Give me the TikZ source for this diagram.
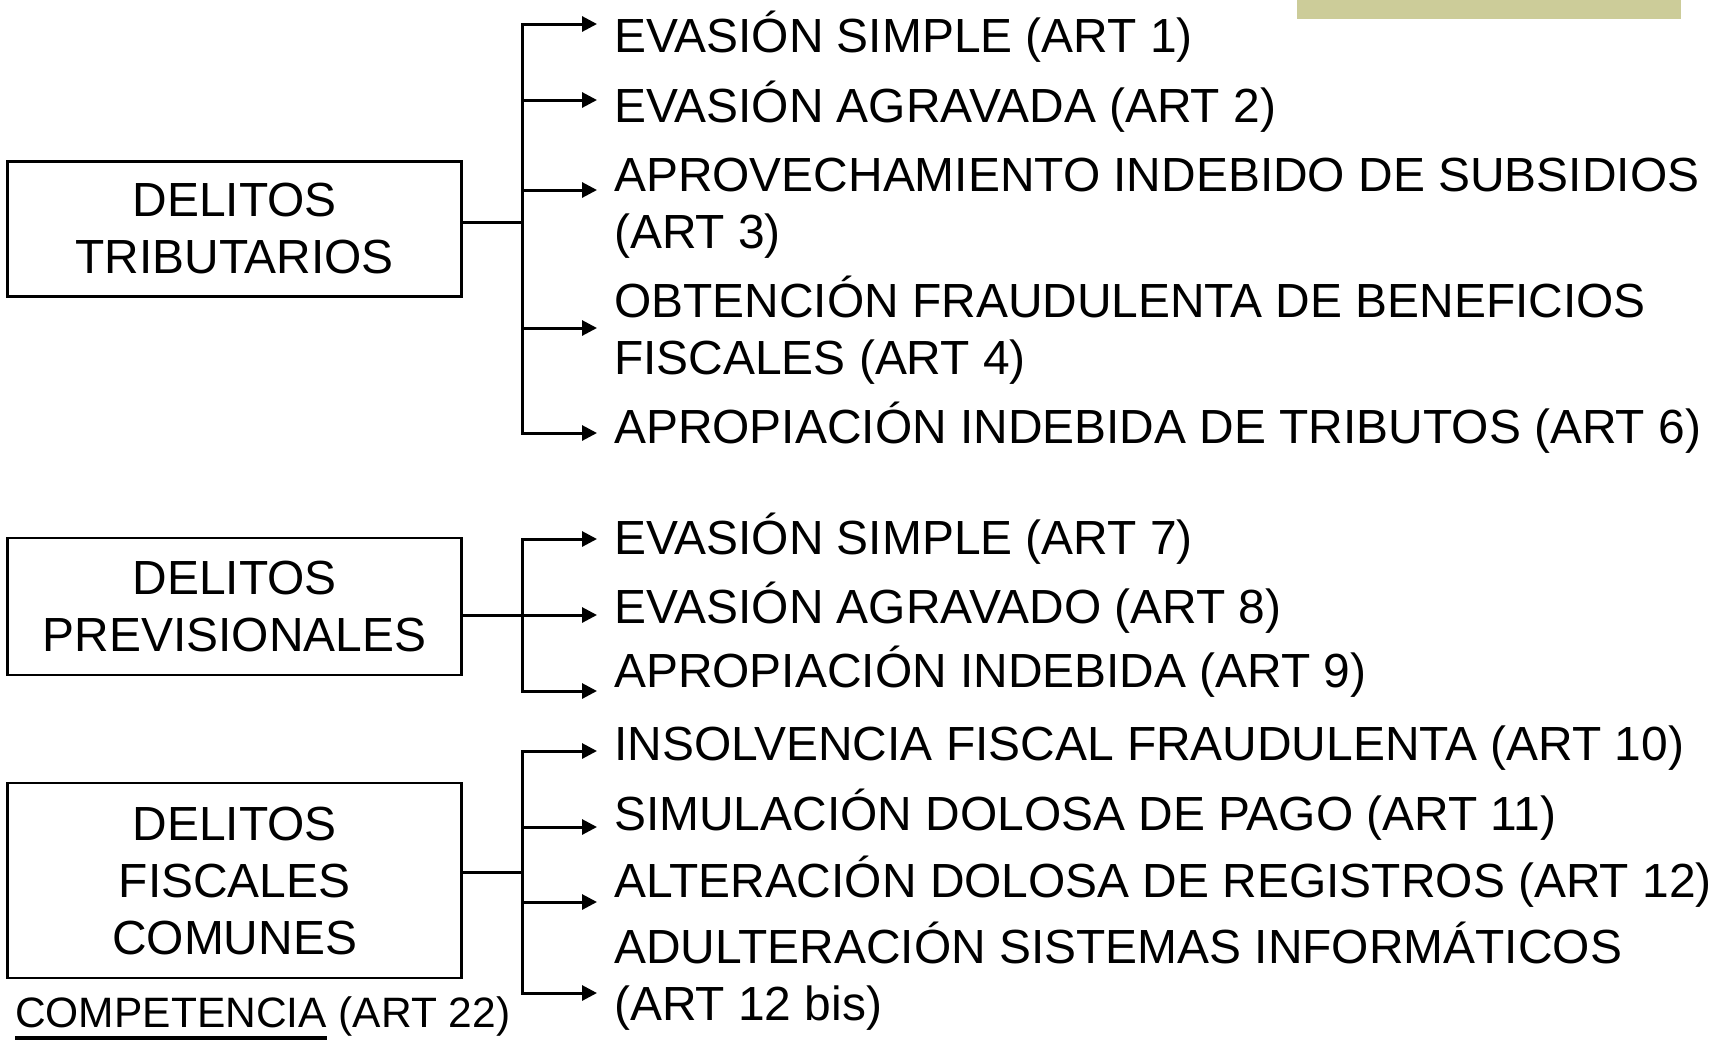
\documentclass[tikz,border=0pt]{standalone}
\usepackage{fontspec}
\setmainfont{Liberation Sans}
\usetikzlibrary{arrows.meta}
\definecolor{banner khaki}{RGB}{204,204,153}
\tikzstyle{delito box}=[draw, line width=2.5pt, minimum width=454pt, inner sep=0pt, align=center, font=\fontsize{47.9}{57}\selectfont]
\tikzstyle{art text}=[anchor=base west, inner sep=0pt, align=left, font=\fontsize{47.9}{57}\selectfont]
\tikzstyle{branch}=[line width=3pt]
\newcommand{\thickul}[1]{\setbox0\hbox{#1}\rlap{\rule[-13pt]{\wd0}{4pt}}\box0\relax}

\begin{document}
\begin{tikzpicture}[x=1pt,y=-1pt,>={Triangle[length=15pt,width=15pt]}]
    \useasboundingbox (0,0) rectangle (1723,1042);

    % Banner
    \fill[banner khaki] (1297,0) rectangle (1681,19);

    % Boxes
    \draw (234.6,229) node[delito box, minimum height=135pt] (trib) {DELITOS\\TRIBUTARIOS};
    \draw (234.6,606.5) node[delito box, minimum height=137pt] (prev) {DELITOS\\PREVISIONALES};
    \draw (234.6,880.5) node[delito box, minimum height=195pt] (fisc) {DELITOS\\FISCALES\\COMUNES};
    \draw (15,1027) node[anchor=base west, inner sep=0pt, font=\fontsize{42.5}{50}\selectfont] (comp) {\thickul{COMPETENCIA} (ART 22)};

    % Articles (base = last line)
    \draw (614,52) node[art text] (trib1) {EVASIÓN SIMPLE (ART 1)};
    \draw (614,122) node[art text] (trib2) {EVASIÓN AGRAVADA (ART 2)};
    \draw (614,248) node[art text] (trib3) {APROVECHAMIENTO INDEBIDO DE SUBSIDIOS\\(ART 3)};
    \draw (614,374) node[art text] (trib4) {OBTENCIÓN FRAUDULENTA DE BENEFICIOS\\FISCALES (ART 4)};
    \draw (614,443) node[art text] (trib6) {APROPIACIÓN INDEBIDA DE TRIBUTOS (ART 6)};

    \draw (614,554) node[art text] (prev7) {EVASIÓN SIMPLE (ART 7)};
    \draw (614,623) node[art text] (prev8) {EVASIÓN AGRAVADO (ART 8)};
    \draw (614,687) node[art text] (prev9) {APROPIACIÓN INDEBIDA (ART 9)};

    \draw (614,760) node[art text] (fisc10) {INSOLVENCIA FISCAL FRAUDULENTA (ART 10)};
    \draw (614,830) node[art text] (fisc11) {SIMULACIÓN DOLOSA DE PAGO (ART 11)};
    \draw (614,897) node[art text] (fisc12) {ALTERACIÓN DOLOSA DE REGISTROS (ART 12)};
    \draw (614,1020) node[art text] (fisc12b) {ADULTERACIÓN SISTEMAS INFORMÁTICOS\\(ART 12 bis)};

    % Forks
    \coordinate (trib fork) at (522,222);
    \coordinate (prev fork) at (522,615);
    \coordinate (fisc fork) at (522,872);
    \draw[branch] (trib fork -| trib.east) -- (trib fork);
    \draw[branch] (prev fork -| prev.east) -- (prev fork);
    \draw[branch] (fisc fork -| fisc.east) -- (fisc fork);

    % Arrow ends
    \coordinate (to trib1) at (597,24);
    \coordinate (to trib2) at (597,100);
    \coordinate (to trib3) at (597,190);
    \coordinate (to trib4) at (597,328);
    \coordinate (to trib6) at (597,433);
    \coordinate (to prev7) at (597,539);
    \coordinate (to prev8) at (597,615);
    \coordinate (to prev9) at (597,691);
    \coordinate (to fisc10) at (597,751);
    \coordinate (to fisc11) at (597,827);
    \coordinate (to fisc12) at (597,902);
    \coordinate (to fisc12b) at (597,993);

    % Arrows
    \draw[branch,->] (trib fork) |- (to trib1);
    \draw[branch,->] (trib fork) |- (to trib2);
    \draw[branch,->] (trib fork) |- (to trib3);
    \draw[branch,->] (trib fork) |- (to trib4);
    \draw[branch,->] (trib fork) |- (to trib6);
    \draw[branch,->] (prev fork) |- (to prev7);
    \draw[branch,->] (prev fork) |- (to prev8);
    \draw[branch,->] (prev fork) |- (to prev9);
    \draw[branch,->] (fisc fork) |- (to fisc10);
    \draw[branch,->] (fisc fork) |- (to fisc11);
    \draw[branch,->] (fisc fork) |- (to fisc12);
    \draw[branch,->] (fisc fork) |- (to fisc12b);

\end{tikzpicture}
\end{document}
